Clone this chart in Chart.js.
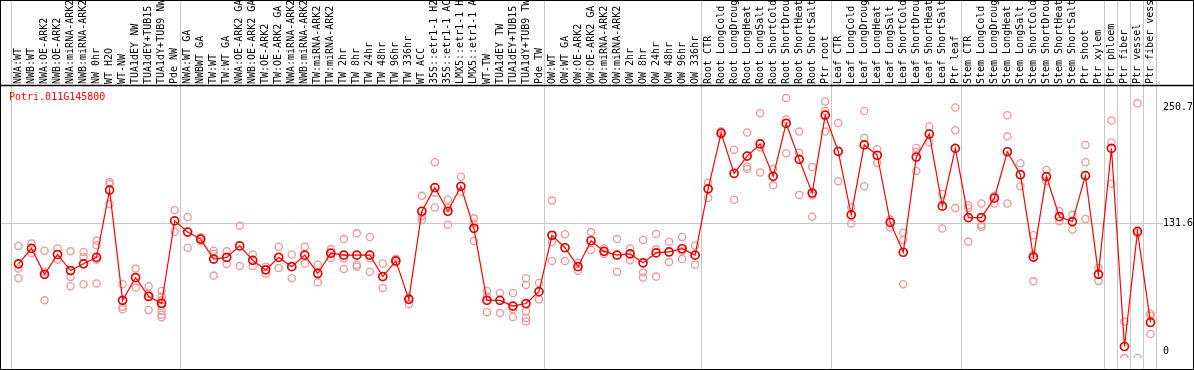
<!DOCTYPE html>
<html>
<head>
<meta charset="utf-8">
<script src="https://cdn.jsdelivr.net/npm/chart.js@4.4.1/dist/chart.umd.min.js"></script>
<style>
  html, body { margin: 0; padding: 0; background: #fff; }
  canvas { display: block; }
</style>
</head>
<body>
<canvas id="exprChart" width="1194" height="370"></canvas>
<script>
// sample names, one per column
const labels = [
  'NWA:WT', 'NWB:WT', 'NWA:OE-ARK2', 'NWB:OE-ARK2', 'NWA:miRNA-ARK2', 'NWB:miRNA-ARK2', 'NW 0hr', 'WT H2O', 'WT-NW',
  'TUA1dEY NW', 'TUA1dEY+TUB15 NW', 'TUA1dY+TUB9 NW', 'Pde NW',
  'NWA:WT GA', 'NWBWT GA', 'TW:WT', 'TW:WT GA', 'NWA:OE-ARK2 GA', 'NWB:OE-ARK2 GA', 'TW:OE-ARK2', 'TW:OE-ARK2 GA',
  'NWA:miRNA-ARK2 GA', 'NWB:miRNA-ARK2 GA', 'TW:miRNA-ARK2', 'TW:miRNA-ARK2 GA', 'TW 2hr', 'TW 8hr', 'TW 24hr', 'TW 48hr',
  'TW 96hr', 'TW 336hr', 'WT ACC', '35S::etr1-1 H2O', '35S::etr1-1 ACC', 'LMX5::etr1-1 H2O', 'LMX5::etr1-1 ACC', 'WT-TW',
  'TUA1dEY TW', 'TUA1dEY+TUB15 TW', 'TUA1dY+TUB9 TW', 'Pde TW',
  'OW:WT', 'OW:WT GA', 'OW:OE-ARK2', 'OW:OE-ARK2 GA', 'OW:miRNA-ARK2', 'OW:miRNA-ARK2 GA', 'OW 2hr', 'OW 8hr', 'OW 24hr',
  'OW 48hr', 'OW 96hr', 'OW 336hr',
  'Root CTR', 'Root LongCold', 'Root LongDrought', 'Root LongHeat', 'Root LongSalt', 'Root ShortCold', 'Root ShortDrought',
  'Root ShortHeat', 'Root ShortSalt', 'Ptr root',
  'Leaf CTR', 'Leaf LongCold', 'Leaf LongDrought', 'Leaf LongHeat', 'Leaf LongSalt', 'Leaf ShortCold', 'Leaf ShortDrought',
  'Leaf ShortHeat', 'Leaf ShortSalt', 'Ptr leaf',
  'Stem CTR', 'Stem LongCold', 'Stem LongDrought', 'Stem LongHeat', 'Stem LongSalt', 'Stem ShortCold', 'Stem ShortDrought',
  'Stem ShortHeat', 'Stem ShortSalt', 'Ptr shoot',
  'Ptr xylem', 'Ptr phloem', 'Ptr fiber', 'Ptr vessel', 'Ptr fiber vessel'
];

// mean expression per sample (the connected line)
const means = [
  89.8, 105.6, 79.0, 99.4, 82.9, 89.8, 96.4, 165.5, 52.3, 75.7, 56.3, 49.3, 133.9,
  122.4, 115.2, 94.7, 96.4, 108.2, 93.4, 83.6, 96.4, 86.9, 98.7, 79.9, 100.7, 98.7, 98.7, 98.7,
  76.7, 92.8, 53.3, 143.8, 168.1, 143.8, 169.4, 126.3, 52.3, 52.3, 46.4, 49.0, 61.2,
  119.1, 106.3, 86.9, 113.5, 102.6, 98.7, 100.0, 90.8, 101.0, 102.0, 105.3, 98.7,
  166.8, 224.0, 182.6, 200.4, 212.9, 179.6, 234.0, 197.1, 162.5, 242.4,
  205.3, 140.1, 211.9, 201.3, 132.3, 101.7, 199.4, 223.1, 149.0, 208.3,
  137.2, 137.2, 157.2, 204.9, 181.3, 96.7, 179.3, 138.2, 133.2, 180.3,
  79.0, 208.3, 4.9, 123.1, 29.6
];

// individual replicates per sample (pale circles)
const reps = [
  [108.2, 84.9, 75.0], [110.8, 100.7], [103.3, 81.6, 52.3], [105.6, 94.1], [102.6, 76.3, 66.8],
  [102.0, 96.7, 68.8], [113.8, 108.9, 94.1, 69.7], [173.7, 171.5, 151.3], [68.8, 45.7, 43.1], [84.9, 65.4],
  [66.8, 59.2, 42.4], [61.9, 56.3, 52.3, 46.4, 41.5, 37.5, 34.9], [144.8, 122.7],
  [137.9, 106.3], [117.0, 113.0], [103.3, 100.0, 77.7], [102.6, 89.5], [129.0, 87.5], [99.4, 87.5],
  [86.9, 79.9], [107.3, 85.6], [99.4, 75.0], [107.3, 90.1], [88.8, 70.8], [104.9, 95.7],
  [115.2, 95.4, 84.6], [121.1, 88.8, 86.9], [117.4, 95.7, 81.6], [90.1, 65.1], [95.0, 91.0], [48.4, 55.0],
  [159.6, 138.9, 134.9], [194.1, 162.9, 147.7], [155.6, 147.4, 130.0], [179.3, 163.8], [136.5, 131.3, 113.2],
  [61.9, 56.3, 40.2], [59.9, 39.2], [59.9, 43.1, 35.2], [75.0, 68.1, 41.2, 34.2, 30.6], [70.1, 53.3],
  [154.7, 112.2, 92.8], [120.1, 92.8], [90.8, 82.6], [122.4, 103.9], [105.6, 100.0], [115.2, 81.6],
  [105.6, 93.4], [114.2, 80.9, 75.7], [120.4, 104.9, 76.7], [112.5, 91.8], [117.4, 103.3, 94.7], [108.6, 88.8],
  [173.0, 157.6], [226.0, 222.0], [207.0, 155.6], [224.7, 189.5, 187.2], [244.4, 209.2, 183.6], [187.2, 170.4],
  [260.2, 237.9, 203.3], [225.6, 203.9, 160.6], [189.2, 159.9, 138.2], [256.6, 246.7, 225.6],
  [234.5, 174.7], [148.0, 131.3], [246.7, 219.1, 169.5], [207.5, 193.4], [135.2, 127.0], [121.7, 114.2, 68.8],
  [208.8, 204.6, 185.2], [230.9, 214.5], [161.5, 126.0], [250.4, 227.0, 147.1],
  [150.0, 147.1, 112.5], [151.7, 130.0, 127.6], [159.6, 151.7], [242.4, 220.7, 151.7], [193.1, 169.5],
  [119.1, 99.4, 71.8], [186.2, 174.7], [143.8, 133.5], [140.1, 125.0], [211.9, 194.1, 135.9],
  [85.6, 72.3], [236.9, 214.5, 172.1], [30.3, -6.9, -6.9], [254.6, 121.0, -6.9], [38.5, 36.5, 17.8]
];

// column index where each sample group starts (separator lines)
const groupBounds = [0, 13, 41, 53, 63, 73, 84, 85, 86, 87, 88];
const yTicks      = [0, 131.6, 250.7];
const yTickLabels = ['0', '131.6', '250.7'];
const gridValue   = 131.6;
const geneName    = 'Potri.011G145800';

const mono = { family: "'DejaVu Sans Mono', monospace", size: 10 };

const maxReps = Math.max(...reps.map(r => r.length));
const repSets = [];
for (let k = 0; k < maxReps; k++) {
  repSets.push({
    type: 'line',
    data: reps.map(r => (r[k] === undefined ? null : r[k])),
    showLine: false,
    pointRadius: 3.6,
    pointBorderWidth: 1.3,
    pointBorderColor: '#f09898',
    pointBackgroundColor: 'rgba(0,0,0,0)'
  });
}

const framePlugin = {
  id: 'frame',
  beforeDraw(chart) {
    const { ctx, chartArea, scales: { x, y } } = chart;
    const step = x.getPixelForValue(1) - x.getPixelForValue(0);
    ctx.save();
    ctx.strokeStyle = '#c8c8c8';
    ctx.lineWidth = 1;
    groupBounds.forEach(b => {
      const px = Math.round(x.getPixelForValue(0) + (b - 0.5) * step) - 0.5;
      ctx.beginPath(); ctx.moveTo(px, 0); ctx.lineTo(px, chart.height); ctx.stroke();
    });
    const gy = Math.round(y.getPixelForValue(gridValue)) + 0.5;
    ctx.beginPath(); ctx.moveTo(0, gy); ctx.lineTo(chartArea.right + 6, gy); ctx.stroke();
    ctx.restore();
  },
  afterDraw(chart) {
    const { ctx, chartArea } = chart;
    ctx.save();
    ctx.fillStyle = '#ff0000';
    ctx.font = "10px 'DejaVu Sans Mono', monospace";
    ctx.textBaseline = 'middle';
    ctx.fillText(geneName, chartArea.left - 3, chartArea.top + 11);
    ctx.strokeStyle = '#000';
    ctx.lineWidth = 1.5;
    ctx.beginPath(); ctx.moveTo(0, chartArea.top - 0.5); ctx.lineTo(chart.width, chartArea.top - 0.5); ctx.stroke();
    ctx.lineWidth = 2;
    ctx.strokeRect(0, 0, chart.width, chart.height);
    ctx.restore();
  }
};

new Chart(document.getElementById('exprChart'), {
  type: 'line',
  data: {
    labels,
    datasets: [{
      data: means,
      borderColor: '#ff0000',
      borderWidth: 1.2,
      tension: 0,
      pointRadius: 4,
      pointBorderWidth: 1.7,
      pointBorderColor: '#e00000',
      pointBackgroundColor: 'rgba(0,0,0,0)'
    }, ...repSets]
  },
  options: {
    responsive: false,
    animation: false,
    events: [],
    layout: { padding: { left: 12, right: 0, top: 0, bottom: 1 } },
    plugins: { legend: { display: false }, tooltip: { enabled: false } },
    scales: {
      x: {
        position: 'top',
        offset: true,
        grid: { display: false, drawTicks: false },
        border: { display: false },
        ticks: {
          autoSkip: false, minRotation: 90, maxRotation: 90, padding: 2, labelOffset: 12,
          color: '#000', font: mono
        },
        afterFit: s => { s.height = 86; }
      },
      y: {
        position: 'right',
        min: -6.9,
        max: 272.4,
        grid: { display: false, drawTicks: false },
        border: { display: false },
        afterBuildTicks: s => { s.ticks = yTicks.map(v => ({ value: v })); },
        ticks: { padding: 6, color: '#000', font: mono, callback: (v, i) => yTickLabels[i] },
        afterFit: s => { s.width = 37; }
      }
    }
  },
  plugins: [framePlugin]
});
</script>
</body>
</html>
